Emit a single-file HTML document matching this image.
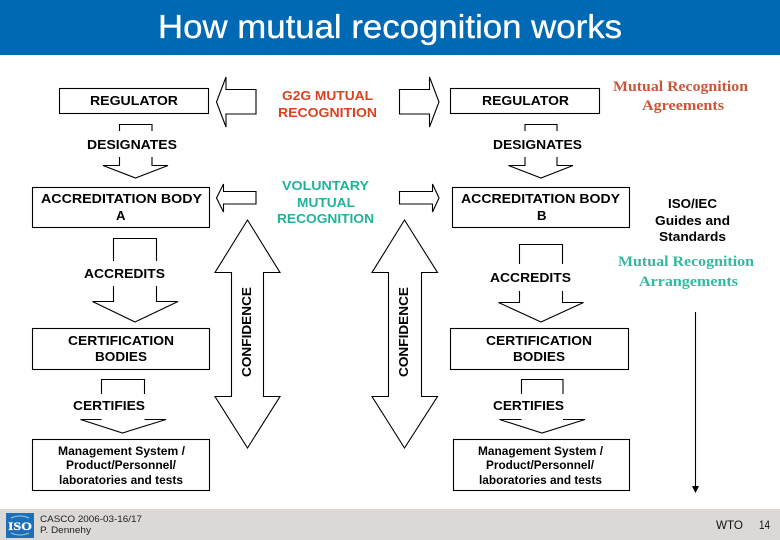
<!DOCTYPE html>
<html>
<head>
<meta charset="utf-8">
<style>
html,body{margin:0;padding:0;background:#fff;width:780px;height:540px;overflow:hidden}
svg{display:block}
.s{fill:none;stroke:#000;stroke-width:1.1}
text{font-family:"Liberation Sans",sans-serif;fill:#000}
.b{font-weight:bold;font-size:13.2px}
.m{font-weight:bold;font-size:12px}
.sf{font-family:"Liberation Serif",serif;font-weight:bold;font-size:15px}
</style>
</head>
<body>
<svg width="780" height="540" viewBox="0 0 780 540" xmlns="http://www.w3.org/2000/svg">
<rect width="780" height="540" fill="#fff"/>
<rect width="780" height="55" fill="#0069b4"/>
<text x="158" y="38" font-size="33" style="fill:#fff;stroke:#fff;stroke-width:0.3" textLength="464" lengthAdjust="spacingAndGlyphs">How mutual recognition works</text>
<rect y="509" width="780" height="31" fill="#dbd8d5"/>

<!-- boxes -->
<g class="s">
<rect x="59.5" y="88.5" width="149" height="25"/>
<rect x="450.5" y="88.5" width="149" height="25"/>
<rect x="32.5" y="187.5" width="177" height="40"/>
<rect x="452.5" y="187.5" width="177" height="40"/>
<rect x="32.5" y="328.5" width="177" height="41"/>
<rect x="450.5" y="328.5" width="178" height="41"/>
<rect x="32.5" y="439.5" width="177" height="51"/>
<rect x="453.5" y="439.5" width="176" height="51"/>

<!-- horizontal arrows -->
<polygon points="216.5,102 226,77 226,89.5 256,89.5 256,114 226,114 226,127"/>
<polygon points="439,102 429.5,77 429.5,89.5 399.5,89.5 399.5,114 429.5,114 429.5,127"/>
<polygon points="216.5,198 223.5,184 223.5,191.5 256,191.5 256,204 223.5,204 223.5,212"/>
<polygon points="439,198 432.5,184 432.5,191.5 399.5,191.5 399.5,204 432.5,204 432.5,212"/>

<!-- confidence arrows -->
<polygon points="247.5,220 280,272.5 263.5,272.5 263.5,396.5 280,396.5 247.5,448 215,396.5 231.5,396.5 231.5,272.5 215,272.5"/>
<polygon points="404.5,220 437.5,272.5 421.5,272.5 421.5,396.5 437.5,396.5 404.5,448 372,396.5 388.5,396.5 388.5,272.5 372,272.5"/>

<!-- designates L -->
<path d="M119.5,131V124.5H152V131M119.5,157V165.5H103L135.5,178L168,165.5H152V157"/>
<!-- designates R -->
<path d="M525,131V124.5H557V131M525,157V165.5H508.5L541,178L573,165.5H557V157"/>
<!-- accredits L -->
<path d="M113.5,261V238.5H156.5V261M113.5,286V301.5H92.5L135,322L178,301.5H156.5V286"/>
<!-- accredits R -->
<path d="M519.5,264V244.5H562.5V264M519.5,291V302.5H498.5L541,322L583.5,302.5H562.5V291"/>
<!-- certifies L -->
<path d="M101.5,394V379.5H144.5V394M101.5,419.5H80.5L122.5,433L166,419.5H144.5"/>
<!-- certifies R -->
<path d="M521.5,394V379.5H563V394M521.5,419.5H499.5L542,433L585,419.5H563"/>
</g>

<!-- vertical line -->
<line x1="695.5" y1="312" x2="695.5" y2="488" stroke="#000" stroke-width="1.1"/>
<polygon points="692,486 699,486 695.5,493" fill="#000"/>

<!-- labels -->
<text class="b" x="90" y="105" textLength="88" lengthAdjust="spacingAndGlyphs">REGULATOR</text>
<text class="b" x="482" y="105" textLength="87" lengthAdjust="spacingAndGlyphs">REGULATOR</text>
<text class="b" x="87" y="149" textLength="90" lengthAdjust="spacingAndGlyphs">DESIGNATES</text>
<text class="b" x="493" y="149" textLength="89" lengthAdjust="spacingAndGlyphs">DESIGNATES</text>
<text class="b" x="41" y="203" textLength="161" lengthAdjust="spacingAndGlyphs">ACCREDITATION BODY</text>
<text class="b" x="116" y="220">A</text>
<text class="b" x="461" y="203" textLength="159" lengthAdjust="spacingAndGlyphs">ACCREDITATION BODY</text>
<text class="b" x="537" y="220">B</text>
<text class="b" x="84" y="278" textLength="81" lengthAdjust="spacingAndGlyphs">ACCREDITS</text>
<text class="b" x="490" y="282" textLength="81" lengthAdjust="spacingAndGlyphs">ACCREDITS</text>
<text class="b" x="68" y="345" textLength="106" lengthAdjust="spacingAndGlyphs">CERTIFICATION</text>
<text class="b" x="95" y="361" textLength="52" lengthAdjust="spacingAndGlyphs">BODIES</text>
<text class="b" x="486" y="345" textLength="106" lengthAdjust="spacingAndGlyphs">CERTIFICATION</text>
<text class="b" x="513" y="361" textLength="52" lengthAdjust="spacingAndGlyphs">BODIES</text>
<text class="b" x="73" y="410" textLength="72" lengthAdjust="spacingAndGlyphs">CERTIFIES</text>
<text class="b" x="493" y="410" textLength="71" lengthAdjust="spacingAndGlyphs">CERTIFIES</text>

<text class="m" x="58" y="455" textLength="127" lengthAdjust="spacingAndGlyphs">Management System /</text>
<text class="m" x="66" y="469" textLength="110" lengthAdjust="spacingAndGlyphs">Product/Personnel/</text>
<text class="m" x="59" y="484" textLength="124" lengthAdjust="spacingAndGlyphs">laboratories and tests</text>
<text class="m" x="478" y="455" textLength="125" lengthAdjust="spacingAndGlyphs">Management System /</text>
<text class="m" x="486" y="469" textLength="108" lengthAdjust="spacingAndGlyphs">Product/Personnel/</text>
<text class="m" x="479" y="484" textLength="123" lengthAdjust="spacingAndGlyphs">laboratories and tests</text>

<text class="b" style="fill:#d8431f" x="282" y="100" textLength="91" lengthAdjust="spacingAndGlyphs">G2G MUTUAL</text>
<text class="b" style="fill:#d8431f" x="278" y="117" textLength="99" lengthAdjust="spacingAndGlyphs">RECOGNITION</text>
<text class="b" style="fill:#1fb39a" x="282" y="190" textLength="87" lengthAdjust="spacingAndGlyphs">VOLUNTARY</text>
<text class="b" style="fill:#1fb39a" x="297" y="207" textLength="58" lengthAdjust="spacingAndGlyphs">MUTUAL</text>
<text class="b" style="fill:#1fb39a" x="277" y="223" textLength="97" lengthAdjust="spacingAndGlyphs">RECOGNITION</text>

<text class="b" x="668" y="208" textLength="49" lengthAdjust="spacingAndGlyphs">ISO/IEC</text>
<text class="b" x="655" y="225" textLength="75" lengthAdjust="spacingAndGlyphs">Guides and</text>
<text class="b" x="659" y="241" textLength="67" lengthAdjust="spacingAndGlyphs">Standards</text>

<text class="sf" style="fill:#c8573a" x="613" y="91" textLength="135" lengthAdjust="spacingAndGlyphs">Mutual Recognition</text>
<text class="sf" style="fill:#c8573a" x="642" y="110" textLength="82" lengthAdjust="spacingAndGlyphs">Agreements</text>
<text class="sf" style="fill:#35b89f" x="618" y="266" textLength="136" lengthAdjust="spacingAndGlyphs">Mutual Recognition</text>
<text class="sf" style="fill:#35b89f" x="639" y="286" textLength="99" lengthAdjust="spacingAndGlyphs">Arrangements</text>

<text class="b" transform="translate(251,377) rotate(-90)" textLength="90" lengthAdjust="spacingAndGlyphs">CONFIDENCE</text>
<text class="b" transform="translate(408,377) rotate(-90)" textLength="90" lengthAdjust="spacingAndGlyphs">CONFIDENCE</text>

<!-- logo -->
<rect x="6" y="513" width="28" height="25" fill="#1d70b8"/>
<path d="M11,518 Q20,514 29,518 M11,533 Q20,537 29,533" fill="none" stroke="#9cc4e4" stroke-width="1"/>
<text x="8" y="530" font-size="12" font-weight="bold" style="fill:#fff;font-family:'Liberation Serif',serif;stroke:#fff;stroke-width:0.3" textLength="24" lengthAdjust="spacingAndGlyphs">ISO</text>

<text x="40" y="522" font-size="9.5" style="fill:#222" textLength="102" lengthAdjust="spacingAndGlyphs">CASCO 2006-03-16/17</text>
<text x="40" y="533" font-size="9.5" style="fill:#222" textLength="51" lengthAdjust="spacingAndGlyphs">P. Dennehy</text>
<text x="716" y="529" font-size="12" style="fill:#111" textLength="27" lengthAdjust="spacingAndGlyphs">WTO</text>
<text x="759" y="529" font-size="12" style="fill:#111" textLength="11" lengthAdjust="spacingAndGlyphs">14</text>
</svg>
</body>
</html>
